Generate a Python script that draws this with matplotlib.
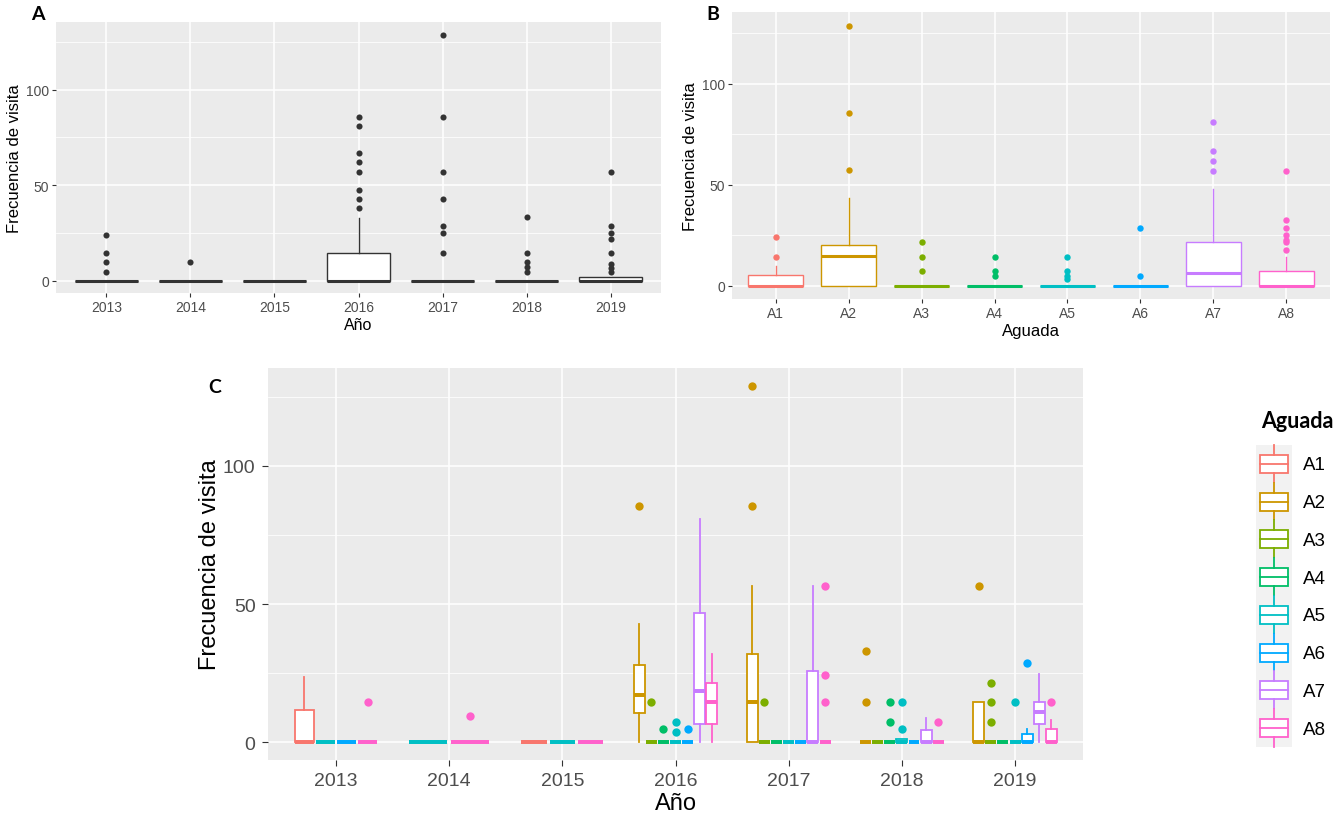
import matplotlib
matplotlib.use("Agg")
import matplotlib.pyplot as plt
from matplotlib.legend_handler import HandlerBase
from matplotlib.patches import Rectangle
from matplotlib.lines import Line2D

plt.rcParams["font.family"] = ["Liberation Sans", "DejaVu Sans"]

years = ["2013", "2014", "2015", "2016", "2017", "2018", "2019"]
aguadas = ["A1", "A2", "A3", "A4", "A5", "A6", "A7", "A8"]
aguada_colors = ["#F8766D", "#CD9600", "#7CAE00", "#00BE67",
                 "#00BFC4", "#00A9FF", "#C77CFF", "#FF61CC"]

# A: visits per year (box stats + outliers)
a_q1 = [0, 0, 0, 0, 0, 0, 0]
a_med = [0, 0, 0, 0, 0, 0, 0]
a_q3 = [0, 0, 0, 14.4, 0, 0, 1.7]
a_whi = [0, 0, 0, 32.6, 0, 0, 1.7]
a_out = [[24, 14.4, 9.6, 4.8],
         [9.6],
         [],
         [85.5, 81, 66.7, 62, 57, 47.6, 43, 38],
         [128.8, 85.5, 57, 43, 28.4, 25, 14.4],
         [33.5, 14.4, 9.6, 7.2, 4.8],
         [57, 28.4, 25, 21.8, 14.4, 8.7, 6.5, 4.8]]

# B: visits per aguada
b_q1 = [0, 0, 0, 0, 0, 0, 0, 0]
b_med = [0, 15, 0, 0, 0, 0, 6.5, 0]
b_q3 = [5.2, 20.3, 0, 0, 0, 0, 21.9, 7.4]
b_whi = [9.8, 43.3, 0, 0, 0, 0, 47.7, 14.4]
b_out = [[24.2, 14.4],
         [57.2, 85.5, 128.3],
         [21.9, 14.4, 7.2],
         [14.4, 7.2, 4.8],
         [14.4, 7.2, 4.8, 3.6],
         [28.8, 4.8],
         [81, 66.5, 62, 57],
         [57, 32.5, 28.8, 25.3, 22.7, 21.9, 18]]

# C: year x aguada
c_year = ["2013", "2013", "2013", "2013",
          "2014", "2014",
          "2015", "2015", "2015",
          "2016", "2016", "2016", "2016", "2016", "2016", "2016",
          "2017", "2017", "2017", "2017", "2017", "2017", "2017",
          "2018", "2018", "2018", "2018", "2018", "2018", "2018",
          "2019", "2019", "2019", "2019", "2019", "2019", "2019"]
c_aguada = ["A1", "A5", "A6", "A8",
            "A5", "A8",
            "A1", "A5", "A8",
            "A2", "A3", "A4", "A5", "A6", "A7", "A8",
            "A2", "A3", "A4", "A5", "A6", "A7", "A8",
            "A2", "A3", "A4", "A5", "A6", "A7", "A8",
            "A2", "A3", "A4", "A5", "A6", "A7", "A8"]
c_q1 = [0, 0, 0, 0,
        0, 0,
        0, 0, 0,
        10.5, 0, 0, 0, 0, 6.5, 6.5,
        0, 0, 0, 0, 0, 0, 0,
        0, 0, 0, 0, 0, 0, 0,
        0, 0, 0, 0, 0, 6.5, 0]
c_med = [0, 0, 0, 0,
         0, 0,
         0, 0, 0,
         17, 0, 0, 0, 0, 18.7, 14.4,
         14.4, 0, 0, 0, 0, 0, 0,
         0, 0, 0, 0, 0, 0, 0,
         0, 0, 0, 0, 0, 11, 0]
c_q3 = [11.6, 0, 0, 0,
        0, 0,
        0, 0, 0,
        27.9, 0, 0, 0, 0, 46.8, 21.3,
        31.8, 0, 0, 0, 0, 25.7, 0,
        0, 0, 0, 1.2, 0, 4.5, 0,
        14.4, 0, 0, 0, 3.1, 14.4, 4.9]
c_whi = [23.5, 0, 0, 0,
         0, 0,
         0, 0, 0,
         42.6, 0, 0, 0, 0, 80.7, 32,
         56.7, 0, 0, 0, 0, 56.7, 0,
         0, 0, 0, 1.2, 0, 8.9, 0,
         14.4, 0, 0, 0, 4.7, 24.8, 7.9]
c_out = [[], [], [], [14.4],
         [], [9.6],
         [], [], [],
         [85.5], [14.4], [4.8], [7.2, 3.6], [4.8], [], [],
         [128.8, 85.5], [14.4], [], [], [], [], [56.6, 24.5, 14.4],
         [33, 14.4], [], [14.4, 7.2], [14.4, 4.8], [], [], [7.2],
         [56.6], [21.6, 14.4, 7.2], [], [14.4], [28.8], [], [14.4]]

BOX_W = 0.75


def draw_box(ax, pos, width, q1, med, q3, whi, out, color, lw, ms):
    stats = [dict(med=med, q1=q1, q3=q3, whislo=0, whishi=whi, fliers=out)]
    ax.bxp(stats, positions=[pos], widths=width, showcaps=False,
           patch_artist=True, manage_ticks=False,
           boxprops=dict(facecolor="white", edgecolor=color, linewidth=lw),
           medianprops=dict(color=color, linewidth=lw * 2.2, solid_capstyle="butt"),
           whiskerprops=dict(color=color, linewidth=lw),
           flierprops=dict(marker="o", markerfacecolor=color,
                           markeredgecolor="none", markersize=ms))


def gg_axes(ax, labels, tick_fs, tick_len, tick_pad):
    n = len(labels)
    ax.set_facecolor("#EBEBEB")
    for s in ax.spines.values():
        s.set_visible(False)
    ax.set_xlim(-0.6, n - 1 + 0.6)
    ax.set_ylim(-6.45, 135.45)
    ax.set_xticks(range(n))
    ax.set_xticklabels(labels)
    ax.set_yticks([0, 50, 100])
    ax.set_yticks([25, 75, 125], minor=True)
    ax.grid(which="major", color="white", linewidth=1.1)
    ax.grid(which="minor", axis="y", color="white", linewidth=0.55)
    ax.set_axisbelow(True)
    ax.tick_params(which="major", colors="#333333", labelcolor="#4D4D4D",
                   labelsize=tick_fs, length=tick_len, width=0.8, pad=tick_pad)
    ax.tick_params(which="minor", length=0)


fig = plt.figure(figsize=(13.43, 8.2), dpi=100)

# Panel A
ax_a = fig.add_axes([56 / 1343, 1 - 294 / 820, 605 / 1343, 271 / 820])
gg_axes(ax_a, years, 10, 3, 2)
for i in range(len(years)):
    draw_box(ax_a, i, BOX_W, a_q1[i], a_med[i], a_q3[i], a_whi[i], a_out[i],
             "#333333", 1.0, 4.4)
ax_a.set_xlabel("Año", fontsize=11.5, labelpad=2)
ax_a.set_ylabel("Frecuencia de visita", fontsize=12, labelpad=3)

# Panel B
ax_b = fig.add_axes([732 / 1343, 1 - 300 / 820, 598 / 1343, 287 / 820])
gg_axes(ax_b, aguadas, 10, 3, 2)
for i, ag in enumerate(aguadas):
    draw_box(ax_b, i, BOX_W, b_q1[i], b_med[i], b_q3[i], b_whi[i], b_out[i],
             aguada_colors[i], 1.0, 4.6)
ax_b.set_xlabel("Aguada", fontsize=12, labelpad=2)
ax_b.set_ylabel("Frecuencia de visita", fontsize=12, labelpad=3)

# Panel C: boxes dodged inside each year
ax_c = fig.add_axes([268 / 1343, 1 - 761 / 820, 815 / 1343, 392 / 820])
gg_axes(ax_c, years, 14, 4, 5)
for yi, yr in enumerate(years):
    rows = [k for k in range(len(c_year)) if c_year[k] == yr]
    slot = BOX_W / len(rows)
    for j, k in enumerate(rows):
        pos = yi - BOX_W / 2 + slot * (j + 0.5)
        col = aguada_colors[aguadas.index(c_aguada[k])]
        draw_box(ax_c, pos, slot * 0.9, c_q1[k], c_med[k], c_q3[k], c_whi[k],
                 c_out[k], col, 1.3, 6)
ax_c.set_xlabel("Año", fontsize=17, labelpad=2)
ax_c.set_ylabel("Frecuencia de visita", fontsize=17, labelpad=1)


class BoxKey(HandlerBase):
    def create_artists(self, legend, orig_handle, xdescent, ydescent,
                       width, height, fontsize, trans):
        c = orig_handle.get_color()
        x0, y0 = -xdescent, -ydescent
        bg = Rectangle((x0, y0), width, height, facecolor="#F2F2F2",
                       edgecolor="none", transform=trans)
        bw, bh = width * 0.78, height * 0.48
        bx, by = x0 + (width - bw) / 2, y0 + (height - bh) / 2
        box = Rectangle((bx, by), bw, bh, facecolor="white", edgecolor=c,
                        linewidth=1.3, transform=trans)
        cx = x0 + width / 2
        mid = Line2D([bx, bx + bw], [y0 + height / 2] * 2, color=c,
                     linewidth=1.3, transform=trans)
        top = Line2D([cx, cx], [by + bh, y0 + height], color=c,
                     linewidth=1.3, transform=trans)
        bot = Line2D([cx, cx], [y0, by], color=c, linewidth=1.3, transform=trans)
        return [bg, box, mid, top, bot]


handles = [Line2D([], [], color=c) for c in aguada_colors]
leg = fig.legend(handles, aguadas, handler_map={Line2D: BoxKey()},
                 loc="upper left", bbox_to_anchor=(1256 / 1343, 1 - 446 / 820),
                 frameon=False, fontsize=13.5, handlelength=1.93,
                 handleheight=2.72, labelspacing=0, handletextpad=0.6,
                 borderpad=0, borderaxespad=0)
fig.text(1261 / 1343, 1 - 422 / 820, "Aguada", fontsize=15.5, fontweight="bold",
         family=["Lato", "DejaVu Sans"], ha="left", va="center")

# panel letters
for letter, x, y in [("A", 38, 15), ("B", 713, 15), ("C", 215, 388)]:
    fig.text(x / 1343, 1 - y / 820, letter, fontsize=14, fontweight="bold",
             family=["Lato", "DejaVu Sans"], ha="center", va="center")

fig.savefig("out.png", dpi=100)
